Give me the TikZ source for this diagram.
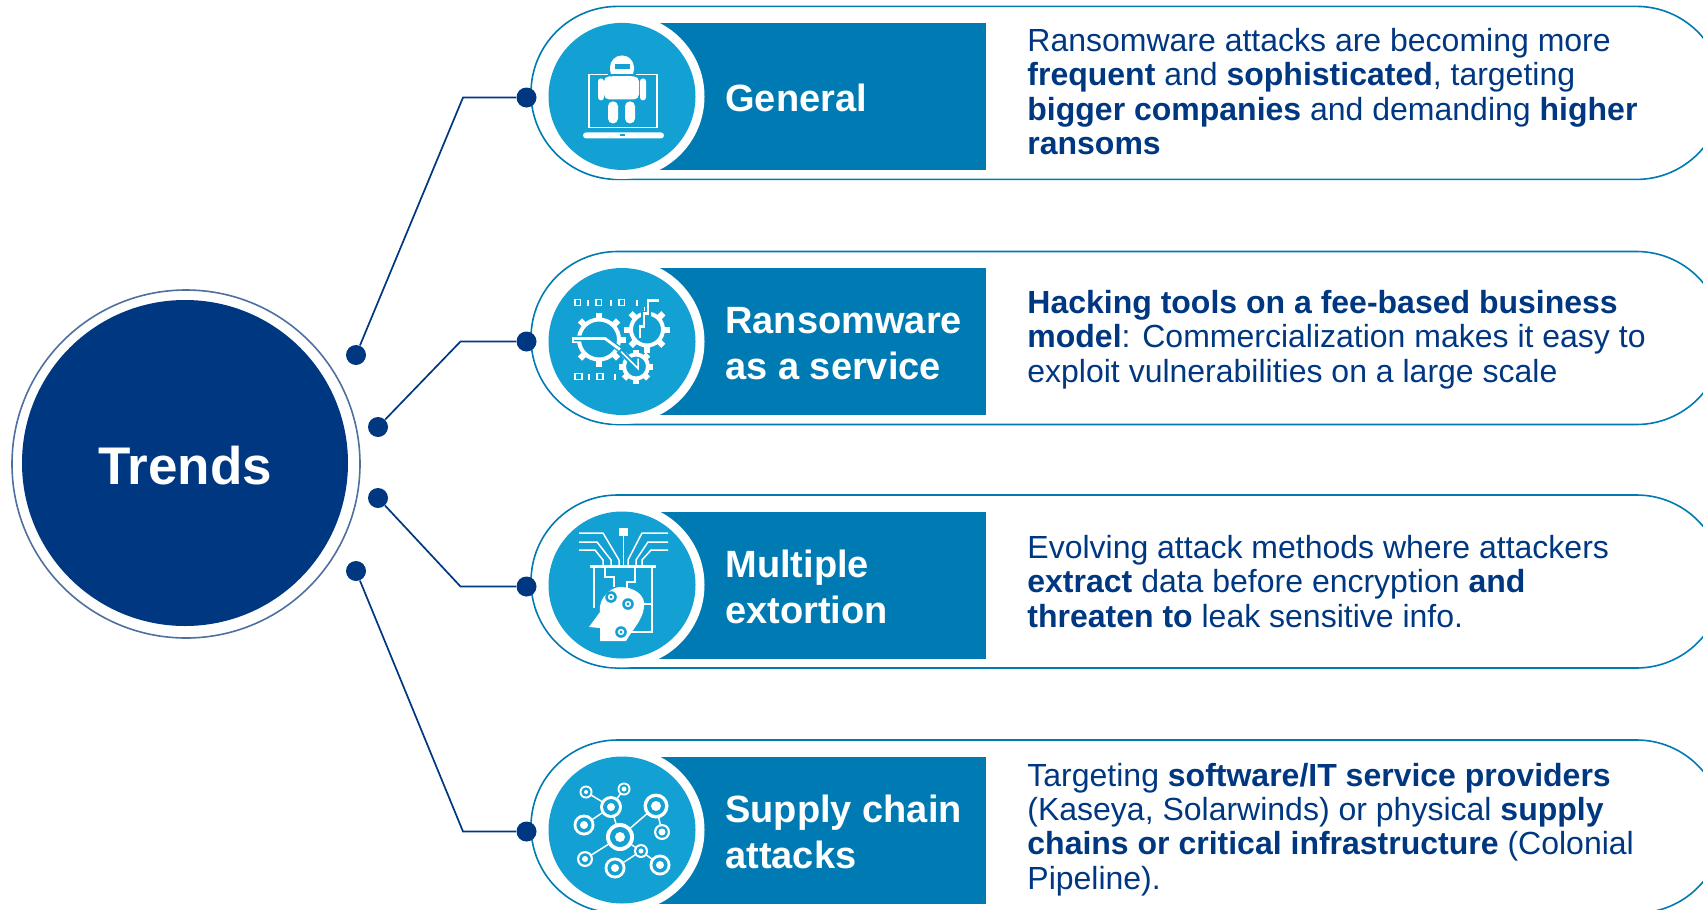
\documentclass[tikz,border=0pt]{standalone}
\usepackage{fontspec}
\setmainfont{Liberation Sans}
\usepackage{tikz}
\usetikzlibrary{calc}

\definecolor{navyblue}{HTML}{003781}
\definecolor{bandblue}{HTML}{007AB3}
\definecolor{iconblue}{HTML}{13A0D3}
\definecolor{ringblue}{HTML}{4F6F9F}

\tikzset{
  pillline/.style={draw=bandblue, line width=0.8pt, rounded corners=43.25pt},
  bandbox/.style={fill=bandblue},
  whitedisc/.style={circle, fill=white, inner sep=0pt, minimum size=82.5pt},
  icondisc/.style={circle, fill=iconblue, inner sep=0pt, minimum size=73.5pt},
  trendsdisc/.style={circle, fill=navyblue, text=white, inner sep=0pt, minimum size=163pt, text height=21.5pt, text depth=0pt, font=\bfseries\fontsize{26.5}{30}\selectfont},
  trendsring/.style={draw=ringblue, line width=0.8pt},
  dotnode/.style={circle, fill=navyblue, inner sep=0pt, minimum size=10pt},
  linkline/.style={draw=navyblue, line width=0.85pt},
  titletext/.style={anchor=west, inner sep=0pt, text=white, align=left, font=\bfseries\fontsize{19}{22.8}\selectfont},
  desctext/.style={anchor=west, inner sep=0pt, text=navyblue, align=left, font=\fontsize{16}{17.2}\selectfont},
  wire/.style={draw=white, line width=0.75pt},
  thickwire/.style={draw=white, line width=1.4pt}
}

% Gear made of a ring and teeth: centre x, centre y, ring radius, tooth radius
\newcommand{\geardraw}[4]{
  \draw[white, line width=2pt] (#1,#2) circle (#3);
  \foreach \a in {0,45,...,315} {
    \draw[white, line width=3pt] ($(#1,#2)+(\a:#3)$) -- ($(#1,#2)+(\a:#4)$);
  }
}

\begin{document}
\begin{tikzpicture}[x=0.5pt,y=-0.5pt]
    \clip (0,0) rectangle (1703,910);

    % Draw the four rows
    \foreach \i/\y/\t/\title/\desc in {
      1/96.4/91.4/{General}/{Ransomware attacks are becoming more\\\textbf{frequent} and \textbf{sophisticated}, targeting\\\textbf{bigger companies} and demanding \textbf{higher}\\\textbf{ransoms}},
      2/341.5/339.7/{Ransomware\\as a service}/{\textbf{Hacking tools on a fee-based business}\\\textbf{model}: Commercialization makes it easy to\\exploit vulnerabilities on a large scale},
      3/585/581.5/{Multiple\\extortion}/{Evolving attack methods where attackers\\\textbf{extract} data before encryption \textbf{and}\\\textbf{threaten to} leak sensitive info.},
      4/830/829.5/{Supply chain\\attacks}/{Targeting \textbf{software/IT service providers}\\(Kaseya, Solarwinds) or physical \textbf{supply}\\\textbf{chains or critical infrastructure} (Colonial\\Pipeline).}} {
      \draw[pillline] (531,\y-90) rectangle (1723,\y+83);
      \fill[bandbox] (622,\y-73.5) rectangle (986,\y+73.5);
      \node[whitedisc] (ring\i) at (622,\y) {};
      \node[icondisc] (icon\i) at (622,\y) {};
      \node[titletext] (title\i) at (725,\y+2) {\title};
      \node[desctext] (desc\i) at (1027,\t) {\desc};
    }

    % Draw centre circle
    \node[trendsdisc] (trends) at (185,463) {Trends};
    \draw[trendsring] (186,464) circle (87pt);

    % Draw connectors
    \foreach \i/\x/\s/\b/\e in {1/356/355/463/97.5, 2/378/427/460.5/341.5, 3/378/498/460.5/586.5, 4/356/571/463/831.5} {
      \node[dotnode] (start\i) at (\x,\s) {};
      \node[dotnode] (end\i) at (526.5,\e) {};
      \coordinate (bend\i) at (\b,\e);
      \draw[linkline] (start\i) -- (bend\i) -- (end\i);
    }

    % Robot on a laptop
    \begin{scope}[shift={(icon1.center)}]
      \draw[wire] (-33,-22) rectangle (35,31);
      \fill[white, rounded corners=1.5pt] (-39,36) rectangle (42,42);
      \fill[iconblue] (-2,38) rectangle (3,40);
      \fill[iconblue] (-27,-20) rectangle (27,4);
      \fill[white, rounded corners=6pt] (-12,-15) -- (-12,-41) -- (12,-41) -- (12,-15) -- cycle;
      \fill[iconblue] (-7.5,-32) rectangle (7.5,-27);
      \fill[iconblue] (-14,-22) rectangle (14,-20);
      \fill[white, rounded corners=2.5pt] (-18,-20) rectangle (17,3);
      \foreach \ax in {-24,18} {
        \fill[white, rounded corners=1.5pt] (\ax,-18) rectangle (\ax+6,4);
      }
      \foreach \lx in {-14,3} {
        \fill[white, rounded corners=2.4pt] (\lx,5) rectangle (\lx+10,27);
      }
    \end{scope}

    % Gears with binary digits
    \begin{scope}[shift={(icon2.center)}]
      \geardraw{-23}{-2}{20}{27}
      \geardraw{25}{-12}{16}{23}
      \geardraw{14}{25}{12}{17}
      \draw[iconblue, line width=2.8pt] (-48,-3) -- (-17,-3) -- (-2,8);
      \draw[thickwire] (-48,-3) -- (-17,-3) -- (-2,8);
      \draw[iconblue, line width=2.8pt] (-1,10) -- (16,27);
      \draw[wire] (-1,10) -- (16,27) -- (16,17);
      \draw[iconblue, line width=2.8pt] (37,-41) -- (26,-41) -- (26,-28) -- (22,-28) -- (22,-15) -- (18,-15) -- (18,-4);
      \draw[thickwire] (37,-41) -- (26,-41) -- (26,-28) -- (22,-28) -- (22,-15) -- (18,-15) -- (18,-4);
      \foreach \bx in {-47,-26,-3} {
        \draw[wire] (\bx,-42) rectangle (\bx+5.5,-36);
      }
      \foreach \bx in {-34,-11,15} {
        \draw[wire] (\bx,-42) -- (\bx,-36);
      }
      \draw[wire] (-47,32) rectangle (-40,38);
      \draw[wire] (-25,32) rectangle (-19,38);
      \foreach \bx in {-33,-7} {
        \draw[wire] (\bx,32) -- (\bx,38);
      }
    \end{scope}

    % Head with circuit wires
    \begin{scope}[shift={(icon3.center)}]
      \fill[white] (-3,-57) rectangle (6,-49);
      \draw[wire] (1.3,-49) -- (1.3,-20);
      \draw[wire] (-43,-52) -- (-19,-52) -- (-3,-25) -- (-3,-20);
      \draw[wire] (-43,-43) -- (-25,-43) -- (-11,-25) -- (-11,-20);
      \draw[wire] (-43,-35) -- (-27,-35) -- (-19,-25) -- (-19,-20);
      \draw[wire] (46,-52) -- (20,-52) -- (6,-25) -- (6,-20);
      \draw[wire] (46,-43) -- (26,-43) -- (14,-25) -- (14,-20);
      \draw[wire] (46,-35) -- (29,-35) -- (20,-25) -- (20,-20);
      \fill[white] (-32,-20) rectangle (34,-17);
      \draw[wire] (-28,-17) -- (-28,23);
      \draw[wire] (30,-17) -- (30,47) -- (4,47);
      \draw[wire] (-17,-17) -- (-17,-8) -- (-8,-8) -- (-8,2);
      \draw[wire] (13,-17) -- (13,-3) -- (5,-3) -- (5,5);
      \fill[white] (-22,56) -- (-22,43) -- (-33,42) -- (-22,27) .. controls (-24,12) and (-10,2) .. (-2,2) .. controls (12,2) and (24,10) .. (22,22) .. controls (21,35) and (10,45) .. (4,56) -- cycle;
      \draw[wire] (11,19) -- (30,19);
      \foreach \hx/\hy in {-11/12, 6/19, -1/47} {
        \fill[iconblue] (\hx,\hy) circle (2.9pt);
        \fill[white] (\hx,\hy) circle (1.6pt);
        \fill[iconblue] (\hx,\hy) circle (0.8pt);
      }
    \end{scope}

    % Network of rings
    \begin{scope}[shift={(icon4.center)}]
      \foreach \ax/\ay/\bx/\by in {-36/-38/-11/-23, 2/-41/-11/-23, -11/-23/-38/-5, -11/-23/-2/7, 34/-24/-2/7, 34/-24/40/2, -2/7/-37/29, -2/7/19/21, 19/21/-7/38, 19/21/38/35} {
        \draw[wire] (\ax,\ay) -- (\bx,\by);
      }
      \foreach \nx/\ny/\r/\d in {-36/-38/6.5/2, 2/-41/6.5/2.5, -11/-23/11/4, -38/-5/10.5/4, 34/-24/12.5/5, 40/2/8/3.5, -2/7/14/5, -37/29/8/3, 19/21/7/2.5, -7/38/10.5/4, 38/35/10.5/4} {
        \fill[white] (\nx,\ny) circle (\r);
        \fill[iconblue] (\nx,\ny) circle (\r*0.72);
        \fill[white] (\nx,\ny) circle (\d);
      }
    \end{scope}

\end{tikzpicture}
\end{document}
